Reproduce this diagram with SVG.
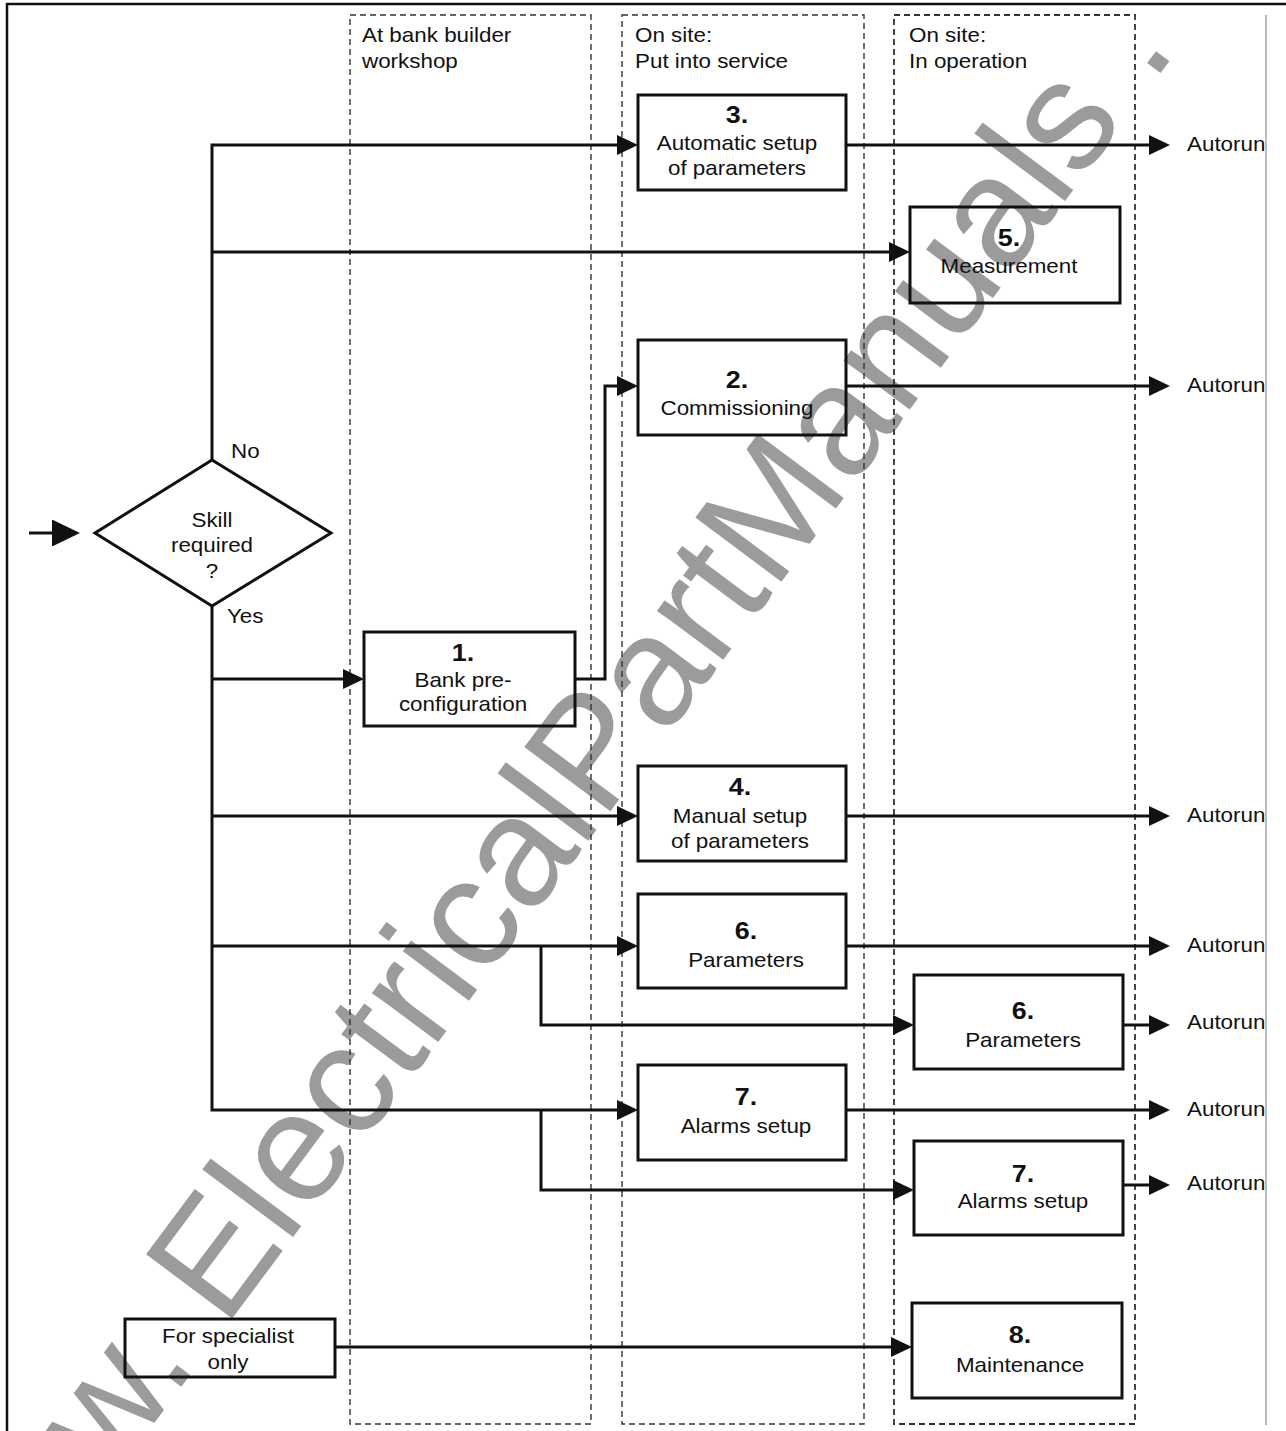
<svg xmlns="http://www.w3.org/2000/svg" width="1286" height="1431" viewBox="0 0 1286 1431">
<style>
.t{font-family:"Liberation Sans",Arial,Helvetica,sans-serif;font-size:20px;fill:#111}
.c{text-anchor:middle}
.b{font-weight:bold;font-size:24px}
.box{fill:none;stroke:#111;stroke-width:3}
.col{fill:none;stroke:#333;stroke-width:1.4;stroke-dasharray:6 4}
.ln{fill:none;stroke:#111;stroke-width:3}
.wm{font-family:"Liberation Sans",Arial,sans-serif;font-size:156px;fill:#9b9b9b}
</style>
<defs>
<marker id="ah" markerUnits="userSpaceOnUse" markerWidth="22" markerHeight="22" refX="17" refY="10" orient="auto">
<path d="M0,0 L21,10 L0,20 Z" fill="#111"/>
</marker>
<marker id="ahb" markerUnits="userSpaceOnUse" markerWidth="30" markerHeight="30" refX="24" refY="13.5" orient="auto">
<path d="M0,0 L28,13.5 L0,27 Z" fill="#111"/>
</marker>
<clipPath id="clipR"><rect x="0" y="0" width="1265" height="1431"/></clipPath>
</defs>
<rect width="1286" height="1431" fill="#fff"/>
<g id="watermark">
<text class="wm" transform="translate(-24.1,1662.4) rotate(-53.3)">www. ElectricalPartManuals . com</text>
</g>
<g id="frame">
<path d="M7,1431 V4 H1286" fill="none" stroke="#111" stroke-width="2.5"/>
<line x1="1266" y1="15" x2="1266" y2="1425" stroke="#bbb" stroke-width="2"/>
</g>
<g id="lanes">
<rect class="col" x="350" y="15" width="241" height="1409"/>
<rect class="col" x="622" y="15" width="242" height="1409"/>
<rect class="col" x="894" y="15" width="241" height="1409" style="stroke-width:1.8"/>
<text class="t" transform="translate(362,42) scale(1.12,1)">At bank builder</text>
<text class="t" transform="translate(362,68) scale(1.12,1)">workshop</text>
<text class="t" transform="translate(635,42) scale(1.12,1)">On site:</text>
<text class="t" transform="translate(635,68) scale(1.12,1)">Put into service</text>
<text class="t" transform="translate(909,42) scale(1.12,1)">On site:</text>
<text class="t" transform="translate(909,68) scale(1.12,1)">In operation</text>
</g>
<g id="connectors">
<path class="ln" d="M29,533 H76" marker-end="url(#ahb)"/>
<path class="ln" d="M212,460 V145 H634" marker-end="url(#ah)"/>
<path class="ln" d="M212,252 H906" marker-end="url(#ah)"/>
<path class="ln" d="M212,606 V1110 H634" marker-end="url(#ah)"/>
<path class="ln" d="M212,679 H360" marker-end="url(#ah)"/>
<path class="ln" d="M212,816 H634" marker-end="url(#ah)"/>
<path class="ln" d="M212,946 H634" marker-end="url(#ah)"/>
<path class="ln" d="M541,946 V1025 H910" marker-end="url(#ah)"/>
<path class="ln" d="M541,1110 V1190 H910" marker-end="url(#ah)"/>
<path class="ln" d="M574,679 H605 V386 H634" marker-end="url(#ah)"/>
<path class="ln" d="M846,145 H1166" marker-end="url(#ah)"/>
<path class="ln" d="M846,386 H1166" marker-end="url(#ah)"/>
<path class="ln" d="M846,816 H1166" marker-end="url(#ah)"/>
<path class="ln" d="M846,946 H1166" marker-end="url(#ah)"/>
<path class="ln" d="M1123,1025 H1166" marker-end="url(#ah)"/>
<path class="ln" d="M846,1110 H1166" marker-end="url(#ah)"/>
<path class="ln" d="M1123,1185 H1166" marker-end="url(#ah)"/>
<path class="ln" d="M335,1347 H908" marker-end="url(#ah)"/>
<text class="t" transform="translate(231,458) scale(1.12,1)">No</text>
<text class="t" transform="translate(227,623) scale(1.12,1)">Yes</text>
<g clip-path="url(#clipR)">
<text class="t" transform="translate(1187,151) scale(1.12,1)">Autorun</text>
<text class="t" transform="translate(1187,392) scale(1.12,1)">Autorun</text>
<text class="t" transform="translate(1187,822) scale(1.12,1)">Autorun</text>
<text class="t" transform="translate(1187,952) scale(1.12,1)">Autorun</text>
<text class="t" transform="translate(1187,1029) scale(1.12,1)">Autorun</text>
<text class="t" transform="translate(1187,1116) scale(1.12,1)">Autorun</text>
<text class="t" transform="translate(1187,1190) scale(1.12,1)">Autorun</text>
</g>
</g>
<g id="decision">
<polygon class="box" points="212,460 331,533 212,606 95,533"/>
<text class="t c" transform="translate(212,527) scale(1.12,1)">Skill</text>
<text class="t c" transform="translate(212,552) scale(1.12,1)">required</text>
<text class="t c" transform="translate(212,578) scale(1.12,1)">?</text>
</g>
<g id="node1">
<rect class="box" x="364" y="632" width="211" height="94"/>
<text class="t c b" transform="translate(463,661) scale(1.12,1)">1.</text>
<text class="t c" transform="translate(463,687) scale(1.12,1)">Bank pre-</text>
<text class="t c" transform="translate(463,711) scale(1.12,1)">configuration</text>
</g>
<g id="node2">
<rect class="box" x="638" y="340" width="208" height="95"/>
<text class="t c b" transform="translate(737,388) scale(1.12,1)">2.</text>
<text class="t c" transform="translate(737,415) scale(1.12,1)">Commissioning</text>
</g>
<g id="node3">
<rect class="box" x="638" y="95" width="208" height="95"/>
<text class="t c b" transform="translate(737,123) scale(1.12,1)">3.</text>
<text class="t c" transform="translate(737,150) scale(1.12,1)">Automatic setup</text>
<text class="t c" transform="translate(737,175) scale(1.12,1)">of parameters</text>
</g>
<g id="node5">
<rect class="box" x="910" y="207" width="210" height="96"/>
<text class="t c b" transform="translate(1009,246) scale(1.12,1)">5.</text>
<text class="t c" transform="translate(1009,273) scale(1.12,1)">Measurement</text>
</g>
<g id="node4">
<rect class="box" x="638" y="766" width="208" height="95"/>
<text class="t c b" transform="translate(740,795) scale(1.12,1)">4.</text>
<text class="t c" transform="translate(740,823) scale(1.12,1)">Manual setup</text>
<text class="t c" transform="translate(740,848) scale(1.12,1)">of parameters</text>
</g>
<g id="node6a">
<rect class="box" x="638" y="894" width="208" height="94"/>
<text class="t c b" transform="translate(746,939) scale(1.12,1)">6.</text>
<text class="t c" transform="translate(746,967) scale(1.12,1)">Parameters</text>
</g>
<g id="node6b">
<rect class="box" x="914" y="975" width="209" height="94"/>
<text class="t c b" transform="translate(1023,1019) scale(1.12,1)">6.</text>
<text class="t c" transform="translate(1023,1047) scale(1.12,1)">Parameters</text>
</g>
<g id="node7a">
<rect class="box" x="638" y="1065" width="208" height="95"/>
<text class="t c b" transform="translate(746,1105) scale(1.12,1)">7.</text>
<text class="t c" transform="translate(746,1133) scale(1.12,1)">Alarms setup</text>
</g>
<g id="node7b">
<rect class="box" x="914" y="1141" width="209" height="94"/>
<text class="t c b" transform="translate(1023,1182) scale(1.12,1)">7.</text>
<text class="t c" transform="translate(1023,1208) scale(1.12,1)">Alarms setup</text>
</g>
<g id="node8">
<rect class="box" x="912" y="1303" width="210" height="95"/>
<text class="t c b" transform="translate(1020,1343) scale(1.12,1)">8.</text>
<text class="t c" transform="translate(1020,1372) scale(1.12,1)">Maintenance</text>
</g>
<g id="specialist">
<rect class="box" x="125" y="1319" width="210" height="58"/>
<text class="t c" transform="translate(228,1343) scale(1.12,1)">For specialist</text>
<text class="t c" transform="translate(228,1369) scale(1.12,1)">only</text>
</g>
</svg>
